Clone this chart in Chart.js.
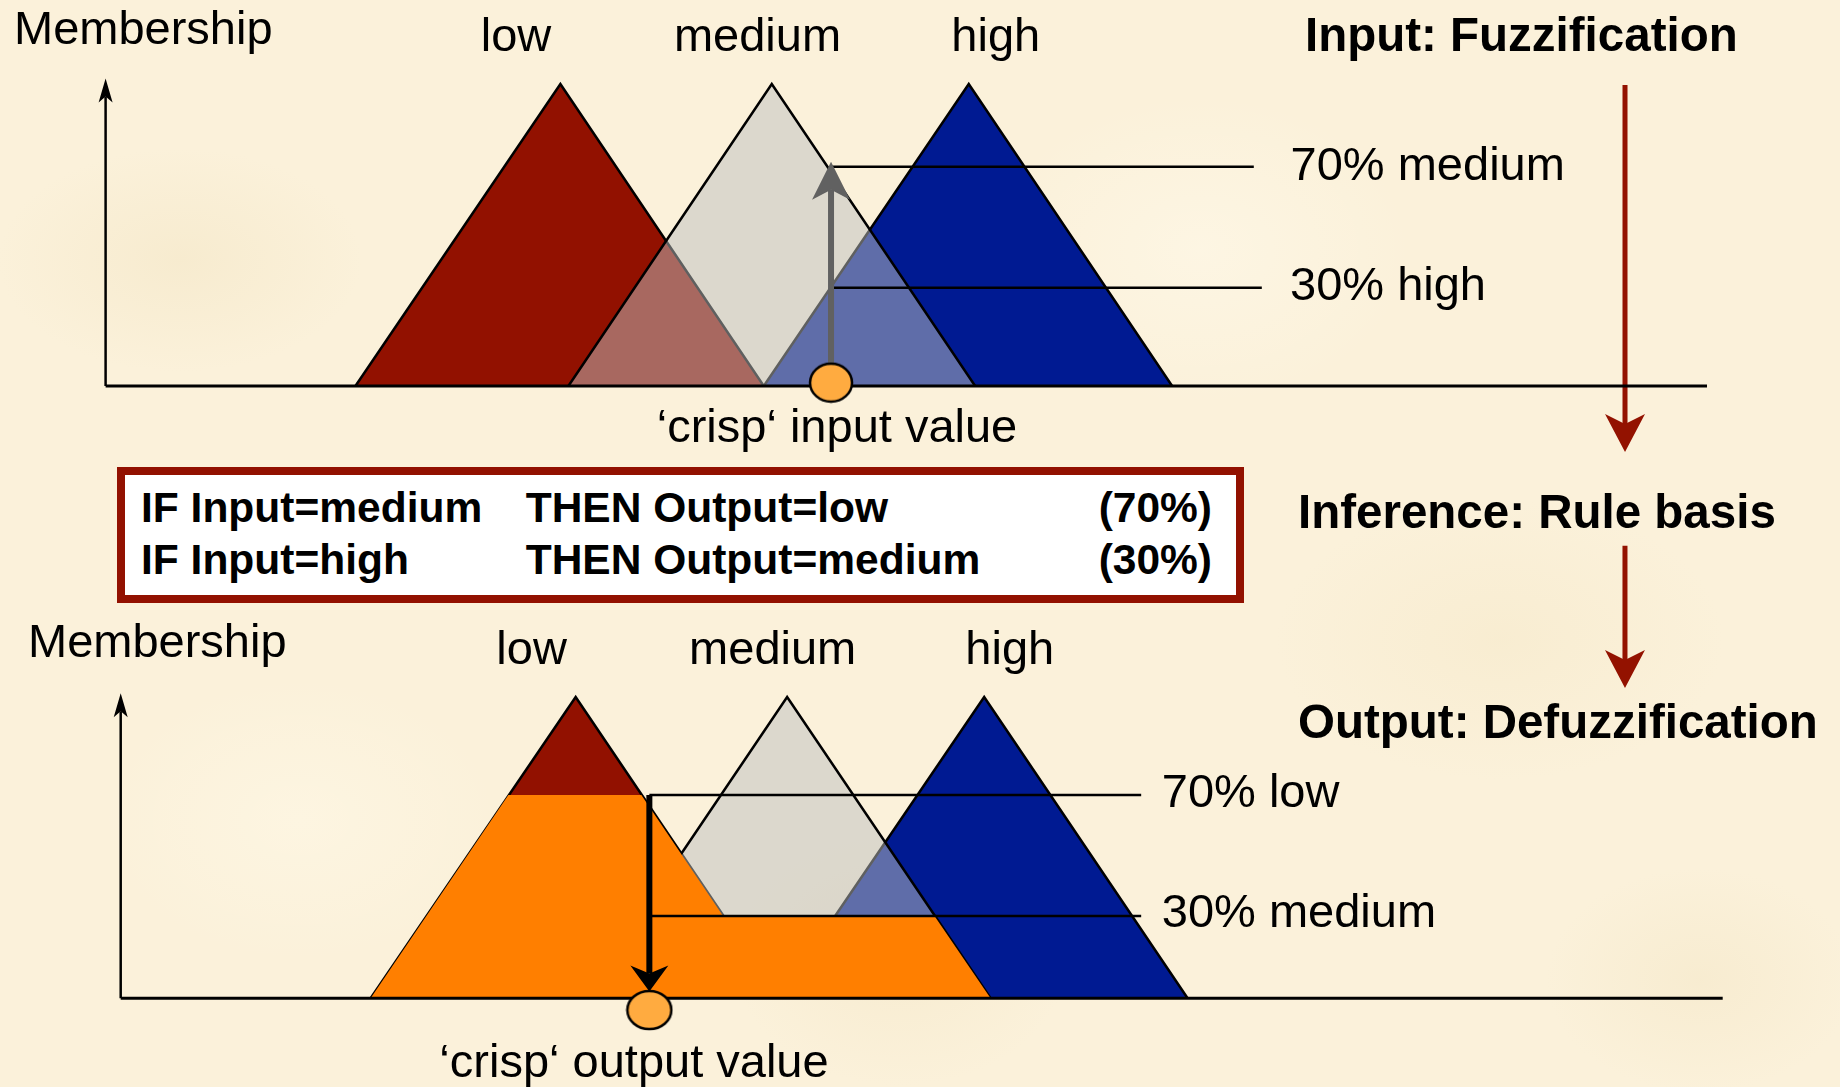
<!DOCTYPE html>
<html>
<head>
<meta charset="utf-8">
<script src="https://cdn.jsdelivr.net/npm/chart.js@4.4.0/dist/chart.umd.min.js"></script>
<style>
  html, body { margin: 0; padding: 0; }
  body {
    width: 1840px; height: 1087px; overflow: hidden; position: relative;
    background-color: #fbf1da;
    background-image:
      radial-gradient(ellipse 260px 160px at 180px 260px, rgba(242,228,194,0.45), transparent 70%),
      radial-gradient(ellipse 320px 200px at 1500px 640px, rgba(244,230,196,0.4), transparent 70%),
      radial-gradient(ellipse 240px 180px at 900px 960px, rgba(242,228,194,0.4), transparent 70%),
      radial-gradient(ellipse 300px 220px at 1200px 250px, rgba(255,250,236,0.5), transparent 70%),
      radial-gradient(ellipse 280px 200px at 300px 820px, rgba(255,249,232,0.5), transparent 70%),
      radial-gradient(ellipse 220px 160px at 1700px 980px, rgba(242,228,194,0.4), transparent 70%);
    font-family: "Liberation Sans", Arial, sans-serif;
  }
  canvas { position: absolute; left: 0; }
  #topChart { top: 0; }
  #bottomChart { top: 470px; }
  .t { position: absolute; white-space: nowrap; line-height: 1; color: #000; z-index: 3; }
  .rules {
    position: absolute; left: 117px; top: 467px; width: 1127px; height: 136px;
    box-sizing: border-box; border: 8px solid #921100; background: #fff; z-index: 2;
  }
</style>
</head>
<body>
<canvas id="topChart" width="1840" height="470"></canvas>
<canvas id="bottomChart" width="1840" height="617"></canvas>
<div class="rules"></div>
<script>
// membership functions (x = input/output value 0..100, y = membership 0..1)
const classes = ['low', 'medium', 'high'];
const lowX = [15.6, 28.4, 41.1];
const mediumX = [28.9, 41.6, 54.3];
const highX = [41.1, 53.9, 66.6];
const peakY = [0, 1, 0];

// fuzzification of the crisp input
const crispIn = 45.3;
const inDegrees = [0.726, 0.325];      // medium, high
const inLineEnds = [71.7, 72.2];
const inLabels = ['70% medium', '30% high'];

// rules
const ruleIf = ['IF Input=medium', 'IF Input=high'];
const ruleThen = ['THEN Output=low', 'THEN Output=medium'];
const ruleWeight = ['(70%)', '(30%)'];

// defuzzification
const crispOut = 33.0;
const outDegrees = [0.675, 0.273];     // low, medium
const outLineEnds = [63.7, 63.7];
const outLabels = ['70% low', '30% medium'];
const aggX = [15.6, 24.2, 32.5, 37.6, 50.8, 54.3];
const aggY = [0, 0.675, 0.675, 0.273, 0.273, 0];

const titles = ['Input: Fuzzification', 'Inference: Rule basis', 'Output: Defuzzification'];

const pts = (xs, ys) => xs.map((x, i) => ({ x, y: ys[i] }));

const arrowHeads = {
  id: 'arrowHeads',
  afterDatasetDraw(chart, args) {
    const ds = chart.data.datasets[args.index];
    if (!ds.head) return;
    const p = args.meta.data;
    const a = p[p.length - 2], b = p[p.length - 1];
    const dx = b.x - a.x, dy = b.y - a.y, d = Math.hypot(dx, dy);
    const ux = dx / d, uy = dy / d, nx = -uy, ny = ux;
    const h = ds.head;
    const tx = b.x + ux * (h.len - h.notch), ty = b.y + uy * (h.len - h.notch);
    const ctx = chart.ctx;
    ctx.save();
    ctx.fillStyle = ds.borderColor;
    ctx.beginPath();
    ctx.moveTo(tx, ty);
    ctx.lineTo(tx - ux * h.len + nx * h.half, ty - uy * h.len + ny * h.half);
    ctx.lineTo(b.x, b.y);
    ctx.lineTo(tx - ux * h.len - nx * h.half, ty - uy * h.len - ny * h.half);
    ctx.closePath();
    ctx.fill();
    ctx.restore();
  }
};

function ellipseMarker(rx, ry) {
  const c = document.createElement('canvas');
  c.width = rx * 2 + 4; c.height = ry * 2 + 4;
  const g = c.getContext('2d');
  g.beginPath();
  g.ellipse(c.width / 2, c.height / 2, rx, ry, 0, 0, Math.PI * 2);
  g.fillStyle = '#ffab40';
  g.fill();
  g.lineWidth = 2.5;
  g.strokeStyle = '#000';
  g.stroke();
  return c;
}

function tri(xs, color, order) {
  return {
    data: pts(xs, peakY), fill: 'origin', backgroundColor: color,
    borderColor: '#000', borderWidth: 2.5, pointRadius: 0, order, clip: false
  };
}
function seg(data, color, width, order, head) {
  return {
    data, fill: false, borderColor: color, borderWidth: width,
    pointRadius: 0, order, clip: false, head
  };
}

function options(pad) {
  return {
    responsive: false, animation: false, events: [],
    layout: { padding: pad },
    elements: { line: { tension: 0 } },
    plugins: { legend: { display: false }, tooltip: { enabled: false } },
    scales: {
      x: { type: 'linear', min: 0, max: 100, display: false },
      y: { type: 'linear', min: 0, max: 1, display: false }
    }
  };
}

const medFill = 'rgba(190,192,192,0.5)';
const red = '#931200';

new Chart(document.getElementById('topChart'), {
  type: 'line',
  data: {
    datasets: [
      tri(lowX, '#921100', 10),
      tri(highX, '#001a92', 9),
      tri(mediumX, medFill, 8),
      seg([{ x: crispIn, y: inDegrees[0] }, { x: inLineEnds[0], y: inDegrees[0] }], '#000', 2.5, 6),
      seg([{ x: crispIn, y: inDegrees[1] }, { x: inLineEnds[1], y: inDegrees[1] }], '#000', 2.5, 6),
      seg([{ x: crispIn, y: 0 }, { x: crispIn, y: 0.65 }], '#616161', 6, 5, { len: 38, half: 19, notch: 10 }),
      seg([{ x: 0, y: 0 }, { x: 100, y: 0 }], '#000', 3, 4),
      seg([{ x: 0, y: 0 }, { x: 0, y: 0.959 }], '#000', 2.5, 4, { len: 24, half: 7, notch: 6 }),
      seg([{ x: 94.88, y: 0.997 }, { x: 94.88, y: -0.126 }], red, 5, 4, { len: 38, half: 20, notch: 10 }),
      {
        data: [{ x: crispIn, y: 0.011 }], showLine: false, pointRadius: 20,
        pointStyle: ellipseMarker(21, 19), order: 1, clip: false
      }
    ]
  },
  options: options({ left: 105.6, right: 133, top: 84, bottom: 84 }),
  plugins: [arrowHeads]
});

new Chart(document.getElementById('bottomChart'), {
  type: 'line',
  data: {
    datasets: [
      tri(lowX, '#921100', 10),
      tri(highX, '#001a92', 9),
      tri(mediumX, medFill, 8),
      {
        data: pts(aggX, aggY), fill: 'origin', backgroundColor: '#ff7f00',
        borderWidth: 0, borderColor: 'rgba(0,0,0,0)', pointRadius: 0, order: 7, clip: false
      },
      seg([{ x: crispOut, y: outDegrees[0] }, { x: outLineEnds[0], y: outDegrees[0] }], '#000', 2.5, 6),
      seg([{ x: crispOut, y: outDegrees[1] }, { x: outLineEnds[1], y: outDegrees[1] }], '#000', 2.5, 6),
      seg([{ x: crispOut, y: outDegrees[0] }, { x: crispOut, y: 0.082 }], '#000', 6, 5, { len: 26, half: 19, notch: 8 }),
      seg([{ x: 0, y: 0 }, { x: 100, y: 0 }], '#000', 3, 4),
      seg([{ x: 0, y: 0 }, { x: 0, y: 0.953 }], '#000', 2.5, 4, { len: 24, half: 7, notch: 6 }),
      seg([{ x: 93.9, y: 1.502 }, { x: 93.9, y: 1.123 }], red, 5, 4, { len: 38, half: 20, notch: 10 }),
      {
        data: [{ x: crispOut, y: -0.039 }], showLine: false, pointRadius: 20,
        pointStyle: ellipseMarker(22, 19), order: 1, clip: false
      }
    ]
  },
  options: options({ left: 120.7, right: 117.3, top: 227, bottom: 88.7 }),
  plugins: [arrowHeads]
});

// text, placed by baseline
function text(str, x, baseline, size, bold, align) {
  const d = document.createElement('div');
  d.className = 't';
  d.textContent = str;
  d.style.fontSize = size + 'px';
  d.style.fontWeight = bold ? 'bold' : 'normal';
  d.style.top = (baseline - 0.8465 * size) + 'px';
  d.style.left = x + 'px';
  if (align === 'center') d.style.transform = 'translateX(-50%)';
  if (align === 'right') d.style.transform = 'translateX(-100%)';
  document.body.appendChild(d);
}

text('Membership', 14, 43.4, 47);
[516, 757.5, 995.8].forEach((x, i) => text(classes[i], x, 50.5, 47, false, 'center'));
text(titles[0], 1305, 51, 47.5, true);
text(inLabels[0], 1290.6, 180, 47);
text(inLabels[1], 1290, 300, 47);
text('\u2018crisp\u2018 input value', 837, 442, 47, false, 'center');

[523, 575].forEach((b, i) => {
  text(ruleIf[i], 141, b, 42.5, true);
  text(ruleThen[i], 525.7, b, 42.5, true);
  text(ruleWeight[i], 1212, b, 42.5, true, 'right');
});
text(titles[1], 1298, 528, 47.5, true);

text('Membership', 28, 657, 47);
[531.6, 772.7, 1009.8].forEach((x, i) => text(classes[i], x, 664, 47, false, 'center'));
text(titles[2], 1298, 738, 47.5, true);
text(outLabels[0], 1161.8, 807, 47);
text(outLabels[1], 1161.8, 927, 47);
text('\u2018crisp\u2018 output value', 634, 1077, 47, false, 'center');
</script>
</body>
</html>
